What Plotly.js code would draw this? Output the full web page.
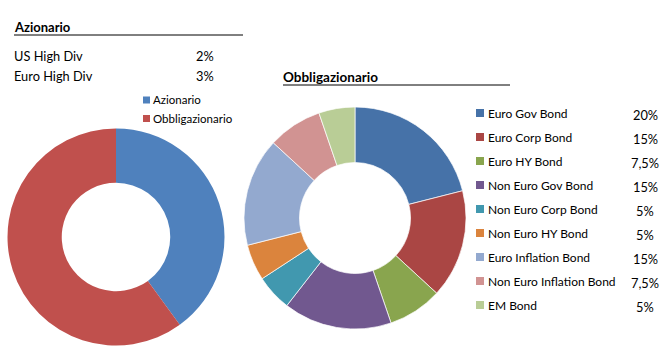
<!DOCTYPE html>
<html>
<head>
<meta charset="utf-8">
<script src="https://cdn.plot.ly/plotly-3.0.1.min.js"></script>
<style>html,body{margin:0;padding:0;background:#fff;}#chart{width:672px;height:351px;}</style>
</head>
<body>
<div id="chart"></div>
<script>
// ---- data ----
const allocNames = ["Azionario", "Obbligazionario"];
const allocValues = [40, 60];
const allocColors = ["#4F81BD", "#C0504D"];

const stockNames = ["US High Div", "Euro High Div"];
const stockPct = ["2%", "3%"];

const bondNames = ["Euro Gov Bond", "Euro Corp Bond", "Euro HY Bond", "Non Euro Gov Bond",
  "Non Euro Corp Bond", "Non Euro HY Bond", "Euro Inflation Bond", "Non Euro Inflation Bond", "EM Bond"];
const bondValues = [20, 15, 7.5, 15, 5, 5, 15, 7.5, 5];
const bondPct = ["20%", "15%", "7,5%", "15%", "5%", "5%", "15%", "7,5%", "5%"];
const bondColors = ["#4672A8", "#AA4644", "#89A54E", "#71588F", "#4198AF", "#DB843D", "#93A9CF", "#D19392", "#B9CD96"];

// ---- helpers (pixel -> paper) ----
const W = 672, H = 351;
const px = x => x / W;
const py = y => 1 - y / H;
const FONT = "Lato, 'Open Sans', sans-serif";

const traces = [
  {
    type: "pie", labels: allocNames, values: allocValues, hole: 0.5,
    sort: false, direction: "clockwise", rotation: 0,
    marker: { colors: allocColors, line: { width: 0 } },
    textinfo: "none", hoverinfo: "label+percent", showlegend: false,
    domain: { x: [px(7.5), px(224.5)], y: [py(345.5), py(128.5)] }
  },
  {
    type: "pie", labels: bondNames, values: bondValues, hole: 0.5,
    sort: false, direction: "clockwise", rotation: 0,
    marker: { colors: bondColors, line: { width: 1, color: "rgba(255,255,255,0.7)" } },
    textinfo: "none", hoverinfo: "label+percent", showlegend: false,
    domain: { x: [px(244), px(466)], y: [py(329), py(107)] }
  }
];

const annotations = [];
const shapes = [];
function txt(text, x, y, opts) {
  annotations.push(Object.assign({
    text: text, x: px(x), y: py(y), xref: "paper", yref: "paper",
    xanchor: "left", yanchor: "middle", showarrow: false,
    font: { family: FONT, size: 12, color: "#000" }
  }, opts || {}));
}

// titles + underlines
txt("<b>Azionario</b>", 12, 27, { font: { family: FONT, size: 13, color: "#000" } });
shapes.push({ type: "line", xref: "paper", yref: "paper", x0: px(14), x1: px(243), y0: py(35), y1: py(35), line: { color: "#000", width: 1 } });
txt("<b>Obbligazionario</b>", 281, 77, { font: { family: FONT, size: 13.5, color: "#000" } });
shapes.push({ type: "line", xref: "paper", yref: "paper", x0: px(283), x1: px(510), y0: py(85), y1: py(85), line: { color: "#000", width: 1 } });

// stock table
stockNames.forEach((n, i) => {
  const y = 56 + i * 20;
  txt(n, 12, y, { font: { family: FONT, size: 12.8, color: "#000" } });
  txt(stockPct[i], 205, y, { xanchor: "center", font: { family: FONT, size: 12.8, color: "#000" } });
});

// allocation legend
allocNames.forEach((n, i) => {
  const y = 100 + i * 18.5;
  shapes.push({ type: "rect", xref: "paper", yref: "paper", x0: px(143), x1: px(150), y0: py(y + 3.5), y1: py(y - 3.5), fillcolor: allocColors[i], line: { width: 0 } });
  txt(n, 151, y, { font: { family: FONT, size: 11.5, color: "#000" } });
});

// bond legend
bondNames.forEach((n, i) => {
  const y = 113 + i * 24;
  shapes.push({ type: "rect", xref: "paper", yref: "paper", x0: px(476), x1: px(484), y0: py(y + 4), y1: py(y - 4), fillcolor: bondColors[i], line: { width: 0 } });
  txt(n, 486, y, { font: { family: FONT, size: 12, color: "#000" } });
  txt(bondPct[i], 645, y + 2, { xanchor: "center", font: { family: FONT, size: 12.8, color: "#000" } });
});

const layout = {
  width: W, height: H,
  margin: { l: 0, r: 0, t: 0, b: 0 },
  paper_bgcolor: "#fff", plot_bgcolor: "#fff",
  showlegend: false,
  annotations: annotations, shapes: shapes
};
Plotly.newPlot("chart", traces, layout, { displayModeBar: false, staticPlot: true });
</script>
</body>
</html>
